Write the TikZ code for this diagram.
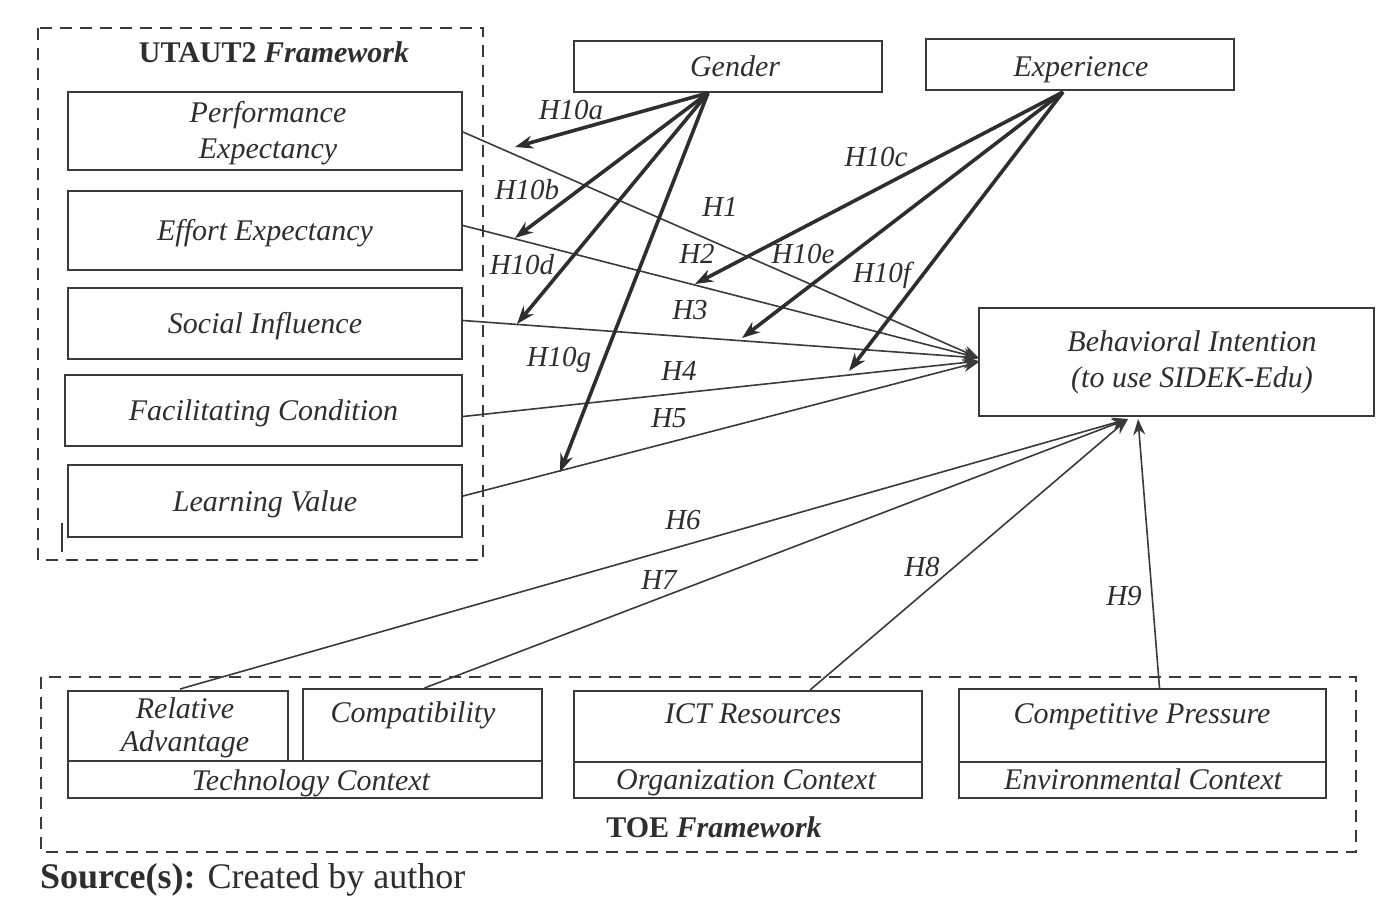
\documentclass[tikz,border=0pt]{standalone}
\usepackage{fontspec}
\setmainfont{Liberation Serif}
\usetikzlibrary{arrows.meta,calc}
\definecolor{ink}{HTML}{2E2E2E}
\definecolor{ln}{HTML}{3A3A3A}
\tikzset{
  box/.style={draw=ln,line width=2pt,inner sep=0pt,font=\fontsize{30}{36}\selectfont\itshape,text=ink,align=center,text height=24pt,text depth=4pt},
  lbl/.style={inner sep=0pt,font=\fontsize{30}{36}\selectfont\itshape,text=ink,text height=24pt,text depth=4pt},
  mlbl/.style={inner sep=0pt,font=\fontsize{30}{36}\selectfont\itshape,text=ink,align=center},
  hlbl/.style={inner sep=0pt,font=\fontsize{29}{32}\selectfont\itshape,text=ink},
  frame/.style={draw=ln,line width=2.2pt,dash pattern=on 12pt off 8pt},
  thin/.style={draw=ln,line width=1.6pt,-{Stealth[length=16pt,width=12pt]}},
  thick/.style={draw=ink,line width=3.6pt,-{Stealth[length=18pt,width=13pt]}},
  ttl/.style={inner sep=0pt,font=\fontsize{30}{34}\selectfont\bfseries,text=ink}
}
\begin{document}
\begin{tikzpicture}[x=1pt,y=-1pt]
\useasboundingbox (0,0) rectangle (1378,914);
% frames
\draw[frame] (38,28) rectangle (483,560);
\draw[frame] (41,677) rectangle (1356,852);
\node[ttl] (utitle) at (274,52) {UTAUT2 \textit{Framework}};
\node[ttl] (ttitle) at (714,827) {TOE \textit{Framework}};
\draw[ln,line width=2pt] (62,523) -- (62,552);
% UTAUT boxes
\node[box,minimum width=394pt,minimum height=78pt] (pe) at (265,131) {};
\node[mlbl] (pet) at (268,133) {Performance\\Expectancy};
\node[box,minimum width=394pt,minimum height=79pt] (ee) at (265,230.5) {Effort Expectancy};
\node[box,minimum width=394pt,minimum height=71pt] (si) at (265,323.5) {Social Influence};
\node[box,minimum width=397pt,minimum height=71pt] (fc) at (263.5,410.5) {Facilitating Condition};
\node[box,minimum width=394pt,minimum height=72pt] (lv) at (265,501) {Learning Value};
% moderators
\node[box,minimum width=308pt,minimum height=51pt] (gender) at (728,66.5) {};
\node[lbl] (gendert) at (735,66) {Gender};
\node[box,minimum width=308pt,minimum height=51pt] (exp) at (1080,64.5) {};
\node[lbl] (expt) at (1081,66) {Experience};
% BI
\node[box,minimum width=395pt,minimum height=108pt] (bi) at (1176.5,362) {};
\node[mlbl] (bit) at (1192,362) {Behavioral Intention\\(to use SIDEK-Edu)};
% TOE boxes
\node[box,minimum width=220pt,minimum height=70pt] (ra) at (178,726) {};
\node[mlbl,font=\fontsize{30}{33}\selectfont\itshape] (rat) at (185,728) {Relative\\Advantage};
\node[box,minimum width=239pt,minimum height=72pt] (comp) at (422.5,725) {};
\node[lbl] (compt) at (413,712) {Compatibility};
\node[box,minimum width=474pt,minimum height=37pt] (tech) at (305,779.5) {};
\node[lbl] (techt) at (311,780) {Technology Context};
\node[box,minimum width=348pt,minimum height=71pt] (ict) at (748,726.5) {};
\node[lbl] (ictt) at (753,713) {ICT Resources};
\node[box,minimum width=348pt,minimum height=36pt] (org) at (748,780) {};
\node[lbl] (orgt) at (746,779) {Organization Context};
\node[box,minimum width=367pt,minimum height=73pt] (cp) at (1142.5,725.5) {};
\node[lbl] (cpt) at (1142,713) {Competitive Pressure};
\node[box,minimum width=367pt,minimum height=36pt] (env) at (1142.5,780) {};
\node[lbl] (envt) at (1143,779) {Environmental Context};
% convergence points
\coordinate (biw) at (979,358);
\coordinate (bis) at (1128,419);
\coordinate (bis2) at (1138,419);
% H1-H5
\draw[thin] ($(pe.east)+(0,1)$) -- (biw);
\draw[thin] ($(ee.east)+(0,-5)$) -- (biw);
\draw[thin] ($(si.east)+(0,-3)$) -- (biw);
\draw[thin] ($(fc.east)+(0,6)$) -- ($(biw)+(0,3)$);
\draw[thin] ($(lv.east)+(0,-5)$) -- ($(biw)+(0,4)$);
% H6-H9
\draw[thin] ($(ra.north)+(2,-1)$) -- (bis);
\draw[thin] ($(comp.north)+(2,0)$) -- (bis);
\draw[thin] ($(ict.north)+(62,0)$) -- (bis);
\draw[thin] ($(cp.north)+(17,0)$) -- (bis2);
% Gender moderators
\coordinate (g0) at (708,93);
\coordinate (ga) at (515,147);
\coordinate (gb) at (515,238);
\coordinate (gd) at (517,324);
\coordinate (gg) at (560,472);
\draw[thick] (g0) -- (ga);
\draw[thick] (g0) -- (gb);
\draw[thick] (g0) -- (gd);
\draw[thick] (g0) -- (gg);
% Experience moderators
\coordinate (e0) at (1063,92);
\coordinate (ec) at (695,284);
\coordinate (ee2) at (742,338);
\coordinate (ef) at (849,371);
\draw[thick] (e0) -- (ec);
\draw[thick] (e0) -- (ee2);
\draw[thick] (e0) -- (ef);
% labels
\node[hlbl] (l10a) at (571,110) {H10a};
\node[hlbl] (l10b) at (527,190) {H10b};
\node[hlbl] (l10d) at (522,265) {H10d};
\node[hlbl] (l10g) at (559,360) {H10g};
\node[hlbl] (l1) at (720,207) {H1};
\node[hlbl] (l2) at (697,254) {H2};
\node[hlbl] (l10e) at (803,254) {H10e};
\node[hlbl] (l10c) at (876,157) {H10c};
\node[hlbl] (l10f) at (882,275) {H10f};
\node[hlbl] (l3) at (690,310) {H3};
\node[hlbl] (l4) at (679,371) {H4};
\node[hlbl] (l5) at (669,418) {H5};
\node[hlbl] (l6) at (683,520) {H6};
\node[hlbl] (l7) at (659,580) {H7};
\node[hlbl] (l8) at (922,567) {H8};
\node[hlbl] (l9) at (1124,596) {H9};
% source
\node[anchor=west,inner sep=0pt,font=\fontsize{36}{40}\selectfont,text=ink] (src) at (40,880) {\textbf{Source(s):} Created by author};
\end{tikzpicture}
\end{document}
